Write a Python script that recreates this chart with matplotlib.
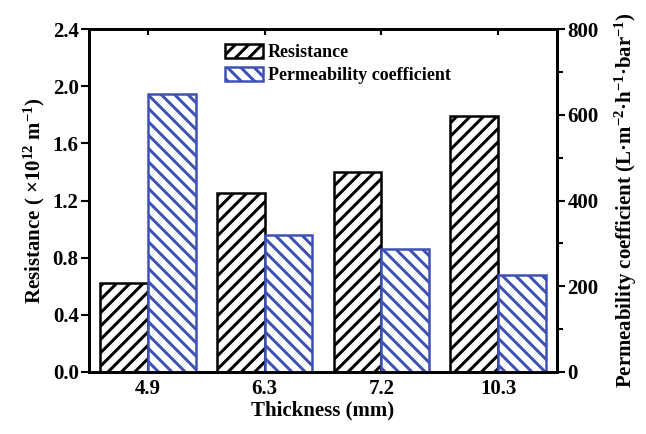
import matplotlib
matplotlib.use("Agg")
import matplotlib.pyplot as plt
import numpy as np
from matplotlib.ticker import MultipleLocator

# draw at 120 dpi so hatch spacing matches; sizes scaled back to 100-dpi look
DPI = 120
k = 100.0 / DPI

plt.rcParams['font.family'] = ['Liberation Serif', 'DejaVu Serif']
plt.rcParams['font.weight'] = 'bold'
plt.rcParams['mathtext.fontset'] = 'custom'
plt.rcParams['mathtext.rm'] = 'Liberation Serif:bold'
plt.rcParams['mathtext.default'] = 'rm'
plt.rcParams['hatch.linewidth'] = 1.8

# data
thickness = ['4.9', '6.3', '7.2', '10.3']
resistance = [0.62, 1.25, 1.40, 1.79]
permeability = [648, 320, 287, 226]

blue = '#3f51b5'

fig = plt.figure(figsize=(646 / DPI, 434 / DPI), dpi=DPI)
ax = fig.add_axes([0.138, 0.143, 0.724, 0.790])
ax2 = ax.twinx()

x = np.arange(len(thickness))
w = 0.41

b1 = ax.bar(x - w / 2, resistance, w, color='white', edgecolor='black',
            hatch='///', linewidth=1.8 * k, label='Resistance')
b2 = ax2.bar(x + w / 2, permeability, w, color='white', edgecolor=blue,
             hatch='\\\\\\', linewidth=1.8 * k, label='Permeability coefficient')

ax.set_xlim(-0.5, 3.5)
ax.set_ylim(0, 2.4)
ax2.set_ylim(0, 800)
ax.set_xticks(x)
ax.set_xticklabels(thickness)
ax.set_yticks(np.arange(0, 2.41, 0.4))
ax.set_yticklabels(['%.1f' % v for v in np.arange(0, 2.41, 0.4)])
ax2.set_yticks([0, 200, 400, 600, 800])
ax2.yaxis.set_minor_locator(MultipleLocator(100))

fs = 15 * k
ax.tick_params(axis='x', direction='in', top=True, length=4 * k, width=1.5 * k,
               labelsize=fs, pad=5 * k)
ax.tick_params(axis='y', direction='out', length=6 * k, width=1.5 * k,
               labelsize=fs, pad=1.5 * k)
ax2.tick_params(axis='y', which='major', direction='out', length=6 * k,
                width=1.5 * k, labelsize=fs, pad=1.5 * k)
ax2.tick_params(axis='y', which='minor', direction='out', length=4 * k, width=1.5 * k)

for a in (ax, ax2):
    for s in a.spines.values():
        s.set_linewidth(2 * k)

ax.set_xlabel('Thickness (mm)', fontsize=fs, fontweight='bold', labelpad=1 * k)
ax.set_ylabel('Resistance ( ×10$^{12}$ m$^{-1}$)', fontsize=fs, fontweight='bold',
              labelpad=4 * k)
ax2.set_ylabel('Permeability coefficient (L·m$^{-2}$·h$^{-1}$·bar$^{-1}$)',
               fontsize=fs, fontweight='bold', labelpad=10 * k)

ax.legend([b1, b2], ['Resistance', 'Permeability coefficient'],
          loc='upper left', bbox_to_anchor=(0.255, 1.003), frameon=False,
          handlelength=2.1, handleheight=0.8, handletextpad=0.3,
          labelspacing=0.3, prop={'weight': 'bold', 'size': 13 * k})

fig.savefig('out.png', dpi=DPI)
